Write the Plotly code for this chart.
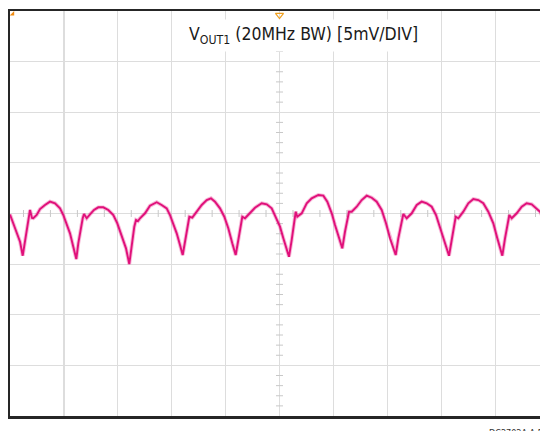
import numpy as np
import plotly.graph_objects as go

# Time in horizontal divisions, voltage in mV (5 mV/DIV)
time_div = [0.0, 0.093, 0.186, 0.236, 0.278, 0.321, 0.353, 0.371, 0.408, 0.432, 0.495, 0.557, 0.649, 0.742,
            0.835, 0.928, 0.989, 1.052, 1.113, 1.174, 1.230, 1.267, 1.312, 1.349, 1.373, 1.423, 1.484, 1.558,
            1.638, 1.731, 1.824, 1.917, 1.991, 2.072, 2.152, 2.213, 2.258, 2.306, 2.338, 2.375, 2.412, 2.505,
            2.597, 2.722, 2.814, 2.907, 2.968, 3.030, 3.093, 3.154, 3.204, 3.247, 3.290, 3.327, 3.382, 3.464,
            3.557, 3.650, 3.729, 3.803, 3.896, 3.976, 4.050, 4.124, 4.187, 4.236, 4.286, 4.310, 4.360, 4.453,
            4.545, 4.670, 4.763, 4.855, 4.885, 4.948, 5.009, 5.071, 5.134, 5.176, 5.226, 5.269, 5.301, 5.330,
            5.412, 5.505, 5.597, 5.720, 5.813, 5.887, 5.969, 6.030, 6.091, 6.165, 6.215, 6.258, 6.290, 6.340,
            6.432, 6.525, 6.618, 6.711, 6.803, 6.896, 6.976, 7.050, 7.156, 7.204, 7.267, 7.297, 7.360, 7.453,
            7.546, 7.638, 7.731, 7.824, 7.904, 7.978, 8.052, 8.145, 8.195, 8.238, 8.269, 8.318, 8.410, 8.503,
            8.596, 8.689, 8.781, 8.874, 8.967, 9.041, 9.134, 9.184, 9.227, 9.264, 9.308, 9.401, 9.494, 9.586,
            9.679, 9.772, 9.833, 9.950]
vout_mv = [-0.10, -1.46, -2.79, -4.17, -2.79, -1.30, -0.47, 0.35, -0.44, -0.47, -0.15, 0.44, 0.84, 1.17,
           1.01, 0.51, -0.15, -0.97, -1.96, -3.28, -4.50, -2.94, -1.46, -0.47, -0.05, -0.47, -0.08, 0.35,
           0.61, 0.61, 0.35, -0.15, -0.97, -2.12, -3.44, -4.99, -2.94, -1.30, -0.64, -0.74, -0.47, 0.02,
           0.77, 1.11, 0.84, 0.51, -0.15, -0.97, -1.96, -3.11, -4.10, -2.79, -1.30, -0.32, -0.40, 0.18,
           0.84, 1.33, 1.50, 1.17, 0.51, -0.32, -1.46, -2.94, -4.10, -2.62, -0.81, -0.32, -0.47, 0.02,
           0.57, 1.01, 0.91, 0.51, 0.18, -0.47, -1.30, -2.45, -3.61, -4.27, -2.62, -0.97, 0.18, -0.32,
           0.02, 1.01, 1.50, 1.83, 1.76, 1.17, 0.02, -1.14, -2.29, -3.44, -1.80, -0.47, 0.18, 0.18,
           0.67, 1.33, 1.76, 1.56, 1.17, 0.35, -0.97, -2.45, -4.10, -2.45, -0.81, -0.05, -0.47, 0.02,
           0.84, 1.17, 1.01, 0.67, -0.15, -1.30, -2.62, -4.17, -2.62, -1.14, -0.32, -0.47, 0.18, 1.01,
           1.43, 1.33, 1.01, 0.18, -0.97, -2.45, -4.17, -2.45, -0.97, -0.15, -0.47, 0.02, 0.67, 1.01,
           0.91, 0.51, 0.18, -1.00]

title_text = "V<sub>OUT1</sub> (20MHz BW) [5mV/DIV]"
footer_text = "DC2702A-A F05"

X_MAX = 9.833
Y_DIV = 5

fig = go.Figure()

# centre-line minor ticks
h_ticks = [k + f for k in range(10) for f in (0.25, 0.75)]
v_ticks = [v for v in np.arange(-20, 20.01, 1.0) if v % 5 != 0]
fig.add_trace(go.Scatter(x=h_ticks, y=[0] * len(h_ticks), mode="markers", hoverinfo="skip",
                         marker=dict(symbol="line-ns", size=5, line=dict(color="#c8c8c8", width=1))))
fig.add_trace(go.Scatter(x=[5] * len(v_ticks), y=v_ticks, mode="markers", hoverinfo="skip",
                         marker=dict(symbol="line-ew", size=5, line=dict(color="#c8c8c8", width=1))))

# soft halo to suggest the noisy trace band, then the trace itself
fig.add_trace(go.Scatter(x=time_div, y=vout_mv, mode="lines", opacity=0.3,
                         line=dict(color="#E5127C", width=3.8), hoverinfo="skip"))
fig.add_trace(go.Scatter(x=time_div, y=vout_mv, mode="lines",
                         line=dict(color="#E0107A", width=1.9), hoverinfo="skip"))

# trigger markers (orange)
fig.add_trace(go.Scatter(x=[5], y=[19.6], mode="markers", cliponaxis=False, hoverinfo="skip",
                         marker=dict(symbol="triangle-down-open", size=7, color="#F0A020",
                                     line=dict(color="#F0A020", width=1.2))))
fig.add_trace(go.Scatter(x=[0.05], y=[19.7], mode="markers", cliponaxis=False, hoverinfo="skip",
                         marker=dict(symbol="triangle-se", size=5, color="#F08A10")))

fig.add_annotation(text=title_text, xref="paper", yref="paper", x=0.5547, y=0.9395,
                   xanchor="center", yanchor="middle", showarrow=False, bgcolor="white",
                   borderpad=4,
                   font=dict(family="DejaVu Sans Condensed, Liberation Sans Narrow, Arial", size=17.5,
                             color="#1a1a1a"))
fig.add_annotation(text=footer_text, xref="paper", yref="paper", x=0.900, y=-0.024,
                   xanchor="left", yanchor="top", showarrow=False,
                   font=dict(family="DejaVu Sans Condensed, Liberation Sans Narrow, Arial", size=9,
                             color="#333333"))

fig.update_layout(
    width=540, height=431,
    margin=dict(l=10, r=0, t=11, b=15),
    paper_bgcolor="white", plot_bgcolor="white",
    showlegend=False,
    xaxis=dict(range=[0, X_MAX], dtick=1, tick0=0, showgrid=True, gridcolor="#dddddd", gridwidth=1.2,
               showticklabels=False, ticks="", zeroline=False, showline=True, linecolor="#262626",
               linewidth=2.5, mirror=True, fixedrange=True),
    yaxis=dict(range=[-4 * Y_DIV, 4 * Y_DIV], dtick=Y_DIV, tick0=0, showgrid=True, gridcolor="#dddddd",
               gridwidth=1.2, showticklabels=False, ticks="", zeroline=False, showline=True,
               linecolor="#262626", linewidth=2.5, mirror=False, fixedrange=True),
)

fig.write_html("out.html", config={"displayModeBar": False, "staticPlot": True},
               post_script="document.body.style.margin='0';"
                           "document.documentElement.style.overflow='hidden';")
